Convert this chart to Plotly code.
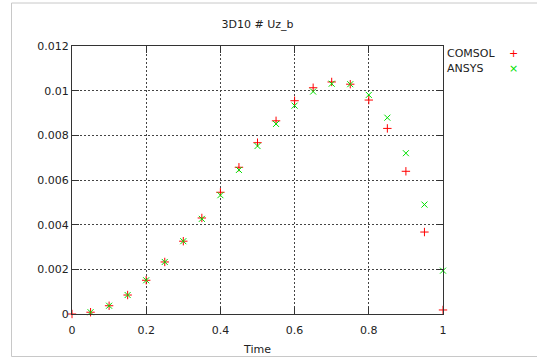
import plotly.graph_objects as go

# Displacement Uz at point b over normalised time, two solvers
comsol_time = [0.0, 0.05, 0.1, 0.15, 0.2, 0.25, 0.3, 0.35, 0.4, 0.45, 0.5,
               0.55, 0.6, 0.65, 0.7, 0.75, 0.8, 0.85, 0.9, 0.95, 1.0]
comsol = [0.0, 0.00008, 0.00037, 0.00085, 0.00151, 0.00233, 0.00326, 0.00430,
          0.00545, 0.00657, 0.00767, 0.00865, 0.00955, 0.01013, 0.01039,
          0.01029, 0.00958, 0.00831, 0.00639, 0.00367, 0.00018]
ansys_time = [0.05, 0.1, 0.15, 0.2, 0.25, 0.3, 0.35, 0.4, 0.45, 0.5,
              0.55, 0.6, 0.65, 0.7, 0.75, 0.8, 0.85, 0.9, 0.95, 1.0]
ansys = [0.00008, 0.00037, 0.00085, 0.00151, 0.00233, 0.00326, 0.00426,
         0.00532, 0.00645, 0.00752, 0.00851, 0.00933, 0.00996, 0.01031,
         0.01029, 0.00981, 0.00879, 0.00720, 0.00490, 0.00194]

x_ticks = [0, 0.2, 0.4, 0.6, 0.8, 1]
x_labels = ["0", "0.2", "0.4", "0.6", "0.8", "1"]
y_ticks = [0, 0.002, 0.004, 0.006, 0.008, 0.010, 0.012]
y_labels = ["0", "0.002", "0.004", "0.006", "0.008", "0.01", "0.012"]

series = [
    ("COMSOL", comsol_time, comsol, "#ff0000", "cross-thin", "+"),
    ("ANSYS", ansys_time, ansys, "#00e000", "x-thin", "\u00d7"),
]

FONT = "DejaVu Sans"
W, H = 537, 358
L, R, T, B = 72, 94, 46, 44

fig = go.Figure()
for name, t, vals, color, sym, _ in series:
    fig.add_trace(go.Scatter(
        x=t, y=vals, mode="markers", name=name, cliponaxis=False,
        marker=dict(symbol=sym, size=6, color=color,
                    line=dict(color=color, width=1)),
        showlegend=False,
    ))

axis_common = dict(
    showline=True, linecolor="#333333", linewidth=1, mirror="allticks",
    ticks="inside", ticklen=7, tickcolor="#333333", tickwidth=1,
    showgrid=True, gridcolor="#444444", gridwidth=1, griddash="2px,2px",
    zeroline=False, automargin=False,
    tickfont=dict(family=FONT, size=11, color="#222222"),
)

fig.update_xaxes(range=[0, 1], tickvals=x_ticks, ticktext=x_labels,
                 ticklabelstandoff=6,
                 title=dict(text="Time", font=dict(family=FONT, size=11, color="#222222"),
                            standoff=9),
                 **axis_common)
fig.update_yaxes(range=[0, 0.012], tickvals=y_ticks, ticktext=y_labels,
                 **axis_common)

# key entries to the right of the plot, gnuplot style (label then symbol)
pw, ph = W - L - R, H - T - B
annotations = []
for i, (name, _, _, color, _, glyph) in enumerate(series):
    ypix = 53 + 15 * i
    yp = (H - B - ypix) / ph
    annotations.append(dict(
        x=(445 - L) / pw, y=yp, xref="paper", yref="paper",
        xanchor="left", yanchor="middle", showarrow=False, text=name,
        font=dict(family=FONT, size=11, color="#222222")))
    annotations.append(dict(
        x=(513 - L) / pw, y=yp, xref="paper", yref="paper",
        xanchor="center", yanchor="middle", showarrow=False, text=glyph,
        font=dict(family=FONT, size=11, color=color)))

# light page frame
fx0 = (11.5 - L) / pw
fy_top = (H - B - 3) / ph
fy_bot = (H - B - 356.5) / ph
fx_right = (W + 5 - L) / pw
shapes = [dict(type="path", xref="paper", yref="paper",
               path=f"M {fx_right},{fy_top} L {fx0},{fy_top} L {fx0},{fy_bot} L {fx_right},{fy_bot}",
               line=dict(color="#c8c8c8", width=1))]

fig.update_layout(
    width=W, height=H,
    margin=dict(l=L, r=R, t=T, b=B, autoexpand=False),
    paper_bgcolor="white", plot_bgcolor="white",
    title=dict(text="3D10 # Uz_b", x=(L + pw / 2) / W, xanchor="center",
               y=1 - 24 / H, yanchor="middle",
               font=dict(family=FONT, size=11, color="#222222")),
    annotations=annotations, shapes=shapes,
)

fig.write_html("out.html")
